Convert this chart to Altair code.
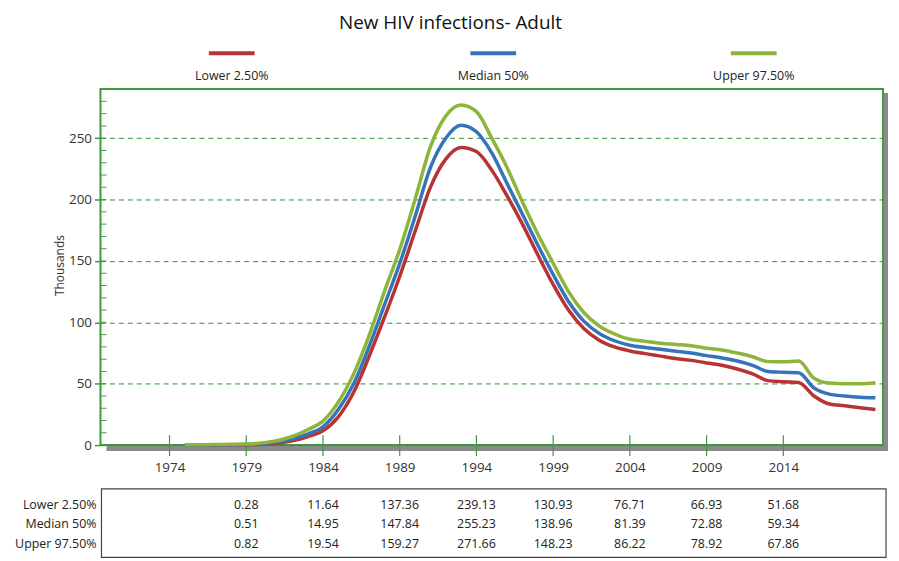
import altair as alt
import pandas as pd

# ---------------- data ----------------
years = list(range(1975, 2021))
lower = [0.05, 0.08, 0.12, 0.18, 0.28, 0.7, 1.6, 3.5, 6.8, 11.64,
         23, 43, 72, 104, 137.36, 174, 210, 233, 242.5, 239.13,
         224, 203, 180, 155, 130.93, 110, 95, 85.5, 80, 76.71,
         74.5, 72.5, 70.5, 69, 66.93, 65, 62, 58, 52.5, 51.68,
         51, 40, 33.5, 32, 30.5, 29]
median = [0.1, 0.15, 0.22, 0.34, 0.51, 1.1, 2.4, 5.0, 9.0, 14.95,
          29, 50, 80, 114, 147.84, 186, 226, 250, 260.5, 255.23,
          238, 213, 188, 163, 138.96, 117, 101, 91, 85, 81.39,
          79.5, 78, 76.5, 75, 72.88, 71, 68.5, 65, 60, 59.34,
          59, 46.5, 41.5, 40, 39, 38.5]
upper = [0.2, 0.3, 0.45, 0.6, 0.82, 1.8, 3.6, 7.0, 12.5, 19.54,
         35, 58, 89, 125, 159.27, 200, 243, 268, 277, 271.66,
         250, 226, 198, 172, 148.23, 125, 108, 97, 90.5, 86.22,
         84.5, 83, 82, 81, 78.92, 77.5, 75, 72, 68, 67.86,
         68.5, 54.5, 50.5, 50, 50, 50.8]

series_names = ["Lower 2.50%", "Median 50%", "Upper 97.50%"]
series_colors = ["#B83333", "#3574B8", "#8DB53C"]

tick_years = [1974, 1979, 1984, 1989, 1994, 1999, 2004, 2009, 2014]
y_major = [0, 50, 100, 150, 200, 250]
y_minor = list(range(0, 290, 10))

table_years = [1979, 1984, 1989, 1994, 1999, 2004, 2009, 2014]
table_lower = ["0.28", "11.64", "137.36", "239.13", "130.93", "76.71", "66.93", "51.68"]
table_median = ["0.51", "14.95", "147.84", "255.23", "138.96", "81.39", "72.88", "59.34"]
table_upper = ["0.82", "19.54", "159.27", "271.66", "148.23", "86.22", "78.92", "67.86"]

title_text = "New HIV infections- Adult"
y_title = "Thousands"

# ---------------- layout ----------------
W, H = 787, 358
FONT = "Open Sans"
GREEN = "#3E9A3E"
GRID = "#2F8F2F"

xscale = alt.Scale(domain=[1969.5, 2020.5], nice=False, zero=False)
yscale = alt.Scale(domain=[0, 290], nice=False, zero=True)

x_axis = alt.Axis(values=tick_years, format="d", ticks=False, domain=False,
                  grid=False, labelPadding=16, labelFontSize=13.5, labelColor="#333",
                  labelFont=FONT, title=None)
y_axis = alt.Axis(values=y_major, tickSize=6, tickColor=GREEN, tickWidth=1.5,
                  domain=False, grid=True, gridColor=GRID, gridDash=[5, 4],
                  gridOpacity=1, gridWidth=1, labelFontSize=13.5, labelColor="#333",
                  labelFont=FONT, labelPadding=3, title=y_title, titleFont=FONT,
                  titleFontSize=12, titleFontWeight="normal", titleColor="#333",
                  titleX=-41, titleY=H / 2 - 2, titleBaseline="middle", titleAngle=270)

long = pd.DataFrame({
    "year": years * 3,
    "value": lower + median + upper,
    "series": [series_names[0]] * len(years) + [series_names[1]] * len(years) + [series_names[2]] * len(years),
})

one = pd.DataFrame({"k": [0]})

# drop shadow
shadow = alt.Chart(one).mark_rect(color="#8a8a8a").encode(
    x=alt.value(6), x2=alt.value(W + 5), y=alt.value(H + 1), y2=alt.value(H + 6))
shadow_r = alt.Chart(one).mark_rect(color="#8a8a8a").encode(
    x=alt.value(W + 1), x2=alt.value(W + 5), y=alt.value(4), y2=alt.value(H + 6))

lines = alt.Chart(long).mark_line(strokeWidth=3.5, interpolate="monotone").encode(
    x=alt.X("year:Q", scale=xscale, axis=x_axis),
    y=alt.Y("value:Q", scale=yscale, axis=y_axis),
    color=alt.Color("series:N", scale=alt.Scale(domain=series_names, range=series_colors), legend=None),
    order=alt.Order("year:Q"),
)

minor = alt.Chart(pd.DataFrame({"value": y_minor})).mark_rule(color=GREEN, strokeWidth=1).encode(
    y=alt.Y("value:Q", scale=yscale, axis=y_axis), x=alt.value(0), x2=alt.value(6))

xticks = alt.Chart(pd.DataFrame({"year": tick_years})).mark_rule(color=GREEN, strokeWidth=1.2).encode(
    x=alt.X("year:Q", scale=xscale, axis=x_axis), y=alt.value(H - 10), y2=alt.value(H + 11))

# title
title = alt.Chart(pd.DataFrame({"t": [title_text]})).mark_text(
    font=FONT, fontSize=19, color="#111", align="center", baseline="middle").encode(
    text="t:N", x=alt.value(352), y=alt.value(-66))

# legend
legend_layers = []
leg_centers = [132, 395, 657]
for name, col, cx in zip(series_names, series_colors, leg_centers):
    d = pd.DataFrame({"name": [name]})
    legend_layers.append(alt.Chart(d).mark_rule(color=col, strokeWidth=4).encode(
        x=alt.value(cx - 23), x2=alt.value(cx + 23), y=alt.value(-36)))
    legend_layers.append(alt.Chart(d).mark_text(
        font=FONT, fontSize=12.5, color="#222", align="center", baseline="middle").encode(
        text="name:N", x=alt.value(cx), y=alt.value(-13)))

# table
table_box = alt.Chart(one).mark_rect(
    fill="white", stroke="#444", strokeWidth=1.2).encode(
    x=alt.value(1), x2=alt.value(W + 3), y=alt.value(402), y2=alt.value(471))
table_layers = [table_box]
row_y = [418, 437, 457]
for name, vals, ry in zip(series_names, [table_lower, table_median, table_upper], row_y):
    d = pd.DataFrame({"year": table_years, "txt": vals})
    table_layers.append(alt.Chart(d).mark_text(
        font=FONT, fontSize=12.5, color="#222", align="center", baseline="middle").encode(
        x=alt.X("year:Q", scale=xscale, axis=x_axis), y=alt.value(ry), text="txt:N"))
    table_layers.append(alt.Chart(pd.DataFrame({"n": [name]})).mark_text(
        font=FONT, fontSize=12.5, color="#222", align="right", baseline="middle").encode(
        x=alt.value(-4), y=alt.value(ry), text="n:N"))

chart = alt.layer(
    shadow, shadow_r, minor, xticks, lines, title, *legend_layers, *table_layers
).properties(
    width=W, height=H,
    autosize=alt.AutoSizeParams(type="none"),
    padding={"left": 93, "top": 80, "right": 8, "bottom": 115},
    background="white",
).configure_view(stroke=GREEN, strokeWidth=2)

chart.save("out.html", embed_options={"renderer": "svg", "actions": False})
